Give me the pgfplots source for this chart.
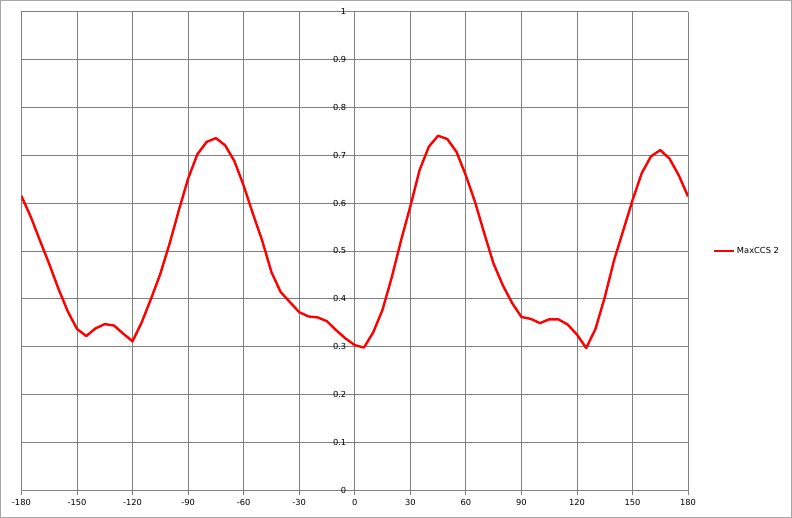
\documentclass[border=0pt]{standalone}
\usepackage{pgfplots}
\pgfplotsset{compat=1.18}
\usepackage{fontspec}
\setmainfont{DejaVu Sans}
\begin{document}
\begin{tikzpicture}
\draw[gray!70, line width=0.8bp] (0.5bp,0.5bp) rectangle (791.5bp,517.5bp);
\begin{axis}[
  at={(21.5bp,28bp)}, anchor=south west,
  scale only axis, width=666.5bp, height=478bp,
  xmin=-180, xmax=180, ymin=0, ymax=1,
  xtick={-180,-150,-120,-90,-60,-30,0,30,60,90,120,150,180},
  ytick={0,0.1,0.2,0.3,0.4,0.5,0.6,0.7,0.8,0.9,1},
  yticklabels={0,0.1,0.2,0.3,0.4,0.5,0.6,0.7,0.8,0.9,1},
  hide obscured y ticks=false,
  grid=major,
  major grid style={gray, line width=0.8bp},
  axis x line=bottom, axis y line=center,
  axis line style={gray, line width=0.8bp, -},
  tick style={gray, line width=0.8bp},
  major tick length=5bp,
  tick align=outside,
  xticklabel style={yshift=-1bp},
  /pgf/number format/assume math mode=true,
  tick label style={font=\fontsize{8.3bp}{10bp}\selectfont, text=black},
  legend style={at={(1.032,0.5)}, anchor=west, draw=none, fill=none,
    font=\fontsize{8.3bp}{10bp}\selectfont},
  legend cell align=left,
  legend image code/.code={\draw[#1] (0bp,0bp) -- (20bp,0bp);},
]
\addplot[red, line width=2.4bp, line join=round] coordinates {
(-180,0.615) (-175,0.572) (-170,0.522) (-165,0.473) (-160,0.421) (-155,0.374)
(-150,0.337) (-145,0.322) (-140,0.338) (-135,0.347) (-130,0.344) (-125,0.327)
(-120,0.311) (-115,0.351) (-110,0.400) (-105,0.452) (-100,0.515) (-95,0.585)
(-90,0.651) (-85,0.702) (-80,0.728) (-75,0.736) (-70,0.721) (-65,0.688)
(-60,0.637) (-55,0.578) (-50,0.522) (-45,0.456) (-40,0.414) (-35,0.393)
(-30,0.372) (-25,0.363) (-20,0.361) (-15,0.353) (-10,0.334) (-5,0.317)
(0,0.303) (5,0.298) (10,0.330) (15,0.377) (20,0.445) (25,0.522)
(30,0.593) (35,0.669) (40,0.718) (45,0.741) (50,0.734) (55,0.707)
(60,0.658) (65,0.602) (70,0.536) (75,0.473) (80,0.428) (85,0.391)
(90,0.362) (95,0.358) (100,0.349) (105,0.357) (110,0.357) (115,0.346)
(120,0.325) (125,0.297) (130,0.337) (135,0.403) (140,0.480) (145,0.543)
(150,0.606) (155,0.663) (160,0.698) (165,0.711) (170,0.693) (175,0.658)
(180,0.614)
};
\addlegendentry{MaxCCS 2}
\end{axis}
\end{tikzpicture}
\end{document}
